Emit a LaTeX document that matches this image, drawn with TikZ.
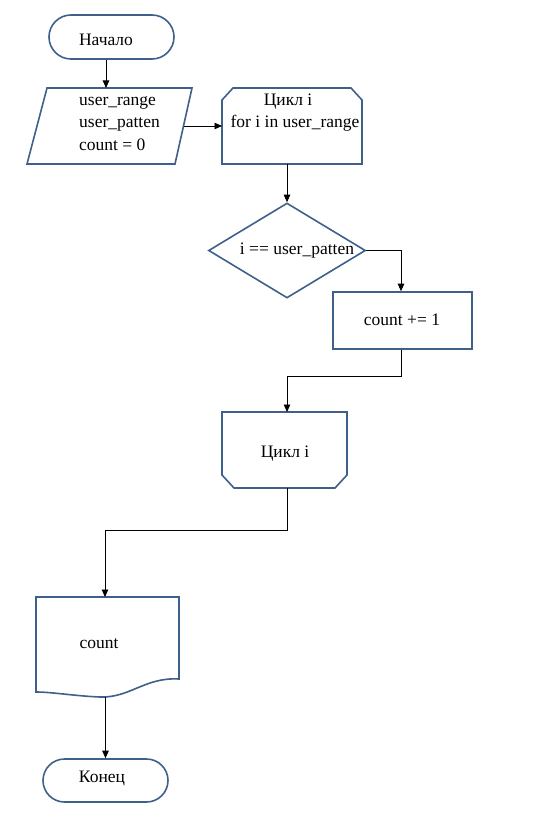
\documentclass[tikz,border=0pt]{standalone}
\usepackage{fontspec}
\setmainfont{Liberation Serif}
\usetikzlibrary{shapes.misc,shapes.geometric,arrows.meta}
\definecolor{shapeblue}{RGB}{62,96,138}
\begin{document}
\begin{tikzpicture}[x=1pt,y=-1pt,
  blk/.style={draw=shapeblue,line width=1.6pt,fill=white},
  frame/.style={inner sep=0pt,outer sep=0pt,draw=none},
  lbl/.style={font=\fontsize{17.5}{22.5}\selectfont,inner sep=0pt},
  flow/.style={draw=black,line width=0.9pt},
  arr/.style={flow,-{Triangle[length=7.5pt,width=6.5pt]}}]
\useasboundingbox (0,0) rectangle (538,834);

% terminator: start
\node[rounded rectangle, blk, minimum width=125pt, minimum height=44pt, inner sep=0pt] (start) at (111.5,37) {};
\node[lbl] at (106,40) {Начало};

% input / output parallelogram
\node[frame, minimum width=146.5pt, minimum height=76pt] (inp) at (110.25,126) {};
\draw[blk] (47,88) -- (192,88) -- (175,164) -- (27,164) -- cycle;
\node[lbl, align=left, anchor=west] at (79,123.5) {user\_range\\user\_patten\\count = 0};

% loop start (top corners cut)
\node[frame, minimum width=140pt, minimum height=76pt] (loop) at (292,126) {};
\draw[blk] (222,100) -- (233,88) -- (351,88) -- (362,100) -- (362,164) -- (222,164) -- cycle;
\node[lbl] at (288,101.5) {Цикл i};
\node[lbl] at (295,123.5) {for i in user\_range};

% decision
\node[diamond, blk, minimum width=157pt, minimum height=95pt, aspect=1.65, inner sep=0pt] (dec) at (287,250.5) {};
\node[lbl] at (297,250.5) {i == user\_patten};

% process
\node[rectangle, blk, minimum width=139pt, minimum height=57pt, inner sep=0pt] (inc) at (402.5,320.5) {};
\node[lbl] at (402,319.5) {count += 1};

% loop end (bottom corners cut)
\node[frame, minimum width=125pt, minimum height=76pt] (lend) at (284.5,450) {};
\draw[blk] (222,412) -- (347,412) -- (347,475) -- (335,488) -- (234,488) -- (222,475) -- cycle;
\node[lbl] at (285,453.5) {Цикл i};

% document
\node[frame, minimum width=143pt, minimum height=100pt] (doc) at (107.5,647) {};
\draw[blk] (36,597) -- (179,597) -- (179,679)
  .. controls (145,677) and (130,698) .. (100,697)
  .. controls (75,696) and (52,692) .. (36,692) -- cycle;
\node[lbl] at (99,643.5) {count};

% terminator: end
\node[rounded rectangle, blk, minimum width=125pt, minimum height=43pt, inner sep=0pt] (stop) at (105.5,780.5) {};
\node[lbl] at (102,778) {Конец};

% connectors
\coordinate (j1) at (287,376);
\coordinate (j3) at (105,530);
\draw[arr] ([xshift=-5.5pt]start.south) -- ([xshift=-5.5pt]start.south |- inp.north);
\draw[arr] (inp.east) -- (inp.east -| loop.west);
\draw[arr] (dec.north |- loop.south) -- (dec.north);
\draw[arr] (dec.east) -| ([xshift=-1.5pt]inc.north);
\draw[arr] ([xshift=-1.5pt]inc.south) |- (j1) -- (j1 |- lend.north);
\draw[arr] (j1 |- lend.south) |- (j3) -- (j3 |- doc.north);
\draw[arr] (doc.south -| stop.north) -- (stop.north);
\end{tikzpicture}
\end{document}
